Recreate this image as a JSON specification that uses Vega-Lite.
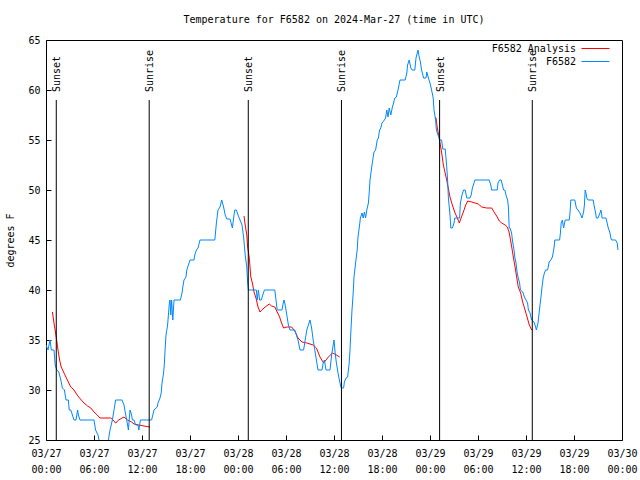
{
  "$schema": "https://vega.github.io/schema/vega-lite/v6.json",
  "width": 576,
  "height": 400,
  "autosize": {"type": "none"},
  "padding": {"left": 46, "top": 40, "right": 18, "bottom": 40},
  "background": "white",
  "title": {"text": "Temperature for F6582 on 2024-Mar-27 (time in UTC)", "font": "DejaVu Sans Mono", "fontSize": 10, "fontWeight": "normal", "anchor": "middle", "offset": 10, "color": "black"},
  "config": {
    "view": {"stroke": "black", "strokeWidth": 1},
    "font": "DejaVu Sans Mono",
    "axis": {"labelFont": "DejaVu Sans Mono", "labelFontSize": 10, "labelColor": "black", "titleFont": "DejaVu Sans Mono", "titleFontSize": 10, "titleFontWeight": "normal", "titleColor": "black", "grid": false, "domain": false, "tickColor": "black", "tickWidth": 1, "labelOverlap": false}
  },
  "datasets": {
    "temps": [
      {"series": "F6582 Analysis", "seg": "a1", "time": "2024-03-27T00:48:00Z", "temp": 37.8},
      {"series": "F6582 Analysis", "seg": "a1", "time": "2024-03-27T01:00:00Z", "temp": 36.7},
      {"series": "F6582 Analysis", "seg": "a1", "time": "2024-03-27T01:12:00Z", "temp": 35.7},
      {"series": "F6582 Analysis", "seg": "a1", "time": "2024-03-27T01:20:00Z", "temp": 35},
      {"series": "F6582 Analysis", "seg": "a1", "time": "2024-03-27T01:30:00Z", "temp": 34},
      {"series": "F6582 Analysis", "seg": "a1", "time": "2024-03-27T01:42:00Z", "temp": 33},
      {"series": "F6582 Analysis", "seg": "a1", "time": "2024-03-27T01:54:00Z", "temp": 32.3},
      {"series": "F6582 Analysis", "seg": "a1", "time": "2024-03-27T02:15:00Z", "temp": 31.7},
      {"series": "F6582 Analysis", "seg": "a1", "time": "2024-03-27T02:40:00Z", "temp": 31},
      {"series": "F6582 Analysis", "seg": "a1", "time": "2024-03-27T03:06:00Z", "temp": 30.3},
      {"series": "F6582 Analysis", "seg": "a1", "time": "2024-03-27T03:30:00Z", "temp": 30},
      {"series": "F6582 Analysis", "seg": "a1", "time": "2024-03-27T03:54:00Z", "temp": 29.5},
      {"series": "F6582 Analysis", "seg": "a1", "time": "2024-03-27T04:18:00Z", "temp": 29.1},
      {"series": "F6582 Analysis", "seg": "a1", "time": "2024-03-27T04:45:00Z", "temp": 28.7},
      {"series": "F6582 Analysis", "seg": "a1", "time": "2024-03-27T05:12:00Z", "temp": 28.4},
      {"series": "F6582 Analysis", "seg": "a1", "time": "2024-03-27T05:36:00Z", "temp": 28.2},
      {"series": "F6582 Analysis", "seg": "a1", "time": "2024-03-27T06:00:00Z", "temp": 27.8},
      {"series": "F6582 Analysis", "seg": "a1", "time": "2024-03-27T06:24:00Z", "temp": 27.5},
      {"series": "F6582 Analysis", "seg": "a1", "time": "2024-03-27T06:45:00Z", "temp": 27.2},
      {"series": "F6582 Analysis", "seg": "a1", "time": "2024-03-27T07:15:00Z", "temp": 27.2},
      {"series": "F6582 Analysis", "seg": "a1", "time": "2024-03-27T08:06:00Z", "temp": 27.2},
      {"series": "F6582 Analysis", "seg": "a1", "time": "2024-03-27T08:30:00Z", "temp": 26.9},
      {"series": "F6582 Analysis", "seg": "a1", "time": "2024-03-27T08:42:00Z", "temp": 26.7},
      {"series": "F6582 Analysis", "seg": "a1", "time": "2024-03-27T09:06:00Z", "temp": 27},
      {"series": "F6582 Analysis", "seg": "a1", "time": "2024-03-27T09:30:00Z", "temp": 27.2},
      {"series": "F6582 Analysis", "seg": "a1", "time": "2024-03-27T09:45:00Z", "temp": 27.3},
      {"series": "F6582 Analysis", "seg": "a1", "time": "2024-03-27T10:12:00Z", "temp": 27},
      {"series": "F6582 Analysis", "seg": "a1", "time": "2024-03-27T10:42:00Z", "temp": 26.8},
      {"series": "F6582 Analysis", "seg": "a1", "time": "2024-03-27T11:00:00Z", "temp": 26.6},
      {"series": "F6582 Analysis", "seg": "a1", "time": "2024-03-27T11:36:00Z", "temp": 26.5},
      {"series": "F6582 Analysis", "seg": "a1", "time": "2024-03-27T12:15:00Z", "temp": 26.4},
      {"series": "F6582 Analysis", "seg": "a1", "time": "2024-03-27T13:00:00Z", "temp": 26.3},
      {"series": "F6582 Analysis", "seg": "a2", "time": "2024-03-28T00:45:00Z", "temp": 47.4},
      {"series": "F6582 Analysis", "seg": "a2", "time": "2024-03-28T00:54:00Z", "temp": 46.5},
      {"series": "F6582 Analysis", "seg": "a2", "time": "2024-03-28T01:06:00Z", "temp": 45.5},
      {"series": "F6582 Analysis", "seg": "a2", "time": "2024-03-28T01:12:00Z", "temp": 44.3},
      {"series": "F6582 Analysis", "seg": "a2", "time": "2024-03-28T01:24:00Z", "temp": 43.3},
      {"series": "F6582 Analysis", "seg": "a2", "time": "2024-03-28T01:30:00Z", "temp": 42.3},
      {"series": "F6582 Analysis", "seg": "a2", "time": "2024-03-28T01:36:00Z", "temp": 41.3},
      {"series": "F6582 Analysis", "seg": "a2", "time": "2024-03-28T01:48:00Z", "temp": 40.7},
      {"series": "F6582 Analysis", "seg": "a2", "time": "2024-03-28T02:00:00Z", "temp": 39.8},
      {"series": "F6582 Analysis", "seg": "a2", "time": "2024-03-28T02:15:00Z", "temp": 39.2},
      {"series": "F6582 Analysis", "seg": "a2", "time": "2024-03-28T02:30:00Z", "temp": 38.3},
      {"series": "F6582 Analysis", "seg": "a2", "time": "2024-03-28T02:45:00Z", "temp": 37.8},
      {"series": "F6582 Analysis", "seg": "a2", "time": "2024-03-28T02:58:00Z", "temp": 38},
      {"series": "F6582 Analysis", "seg": "a2", "time": "2024-03-28T03:24:00Z", "temp": 38.3},
      {"series": "F6582 Analysis", "seg": "a2", "time": "2024-03-28T03:54:00Z", "temp": 38.6},
      {"series": "F6582 Analysis", "seg": "a2", "time": "2024-03-28T04:12:00Z", "temp": 38.4},
      {"series": "F6582 Analysis", "seg": "a2", "time": "2024-03-28T04:36:00Z", "temp": 38.3},
      {"series": "F6582 Analysis", "seg": "a2", "time": "2024-03-28T04:54:00Z", "temp": 37.8},
      {"series": "F6582 Analysis", "seg": "a2", "time": "2024-03-28T05:12:00Z", "temp": 37.3},
      {"series": "F6582 Analysis", "seg": "a2", "time": "2024-03-28T05:24:00Z", "temp": 36.8},
      {"series": "F6582 Analysis", "seg": "a2", "time": "2024-03-28T05:42:00Z", "temp": 36.2},
      {"series": "F6582 Analysis", "seg": "a2", "time": "2024-03-28T06:06:00Z", "temp": 36.3},
      {"series": "F6582 Analysis", "seg": "a2", "time": "2024-03-28T06:42:00Z", "temp": 36.3},
      {"series": "F6582 Analysis", "seg": "a2", "time": "2024-03-28T07:06:00Z", "temp": 35.9},
      {"series": "F6582 Analysis", "seg": "a2", "time": "2024-03-28T07:30:00Z", "temp": 35.2},
      {"series": "F6582 Analysis", "seg": "a2", "time": "2024-03-28T08:00:00Z", "temp": 34.8},
      {"series": "F6582 Analysis", "seg": "a2", "time": "2024-03-28T08:36:00Z", "temp": 34.7},
      {"series": "F6582 Analysis", "seg": "a2", "time": "2024-03-28T09:24:00Z", "temp": 34.5},
      {"series": "F6582 Analysis", "seg": "a2", "time": "2024-03-28T09:48:00Z", "temp": 34.2},
      {"series": "F6582 Analysis", "seg": "a2", "time": "2024-03-28T10:15:00Z", "temp": 33.3},
      {"series": "F6582 Analysis", "seg": "a2", "time": "2024-03-28T10:42:00Z", "temp": 32.7},
      {"series": "F6582 Analysis", "seg": "a2", "time": "2024-03-28T11:18:00Z", "temp": 33.3},
      {"series": "F6582 Analysis", "seg": "a2", "time": "2024-03-28T11:48:00Z", "temp": 33.7},
      {"series": "F6582 Analysis", "seg": "a2", "time": "2024-03-28T12:06:00Z", "temp": 33.6},
      {"series": "F6582 Analysis", "seg": "a2", "time": "2024-03-28T12:42:00Z", "temp": 33.3},
      {"series": "F6582 Analysis", "seg": "a3", "time": "2024-03-29T00:39:00Z", "temp": 57.3},
      {"series": "F6582 Analysis", "seg": "a3", "time": "2024-03-29T00:45:00Z", "temp": 57.2},
      {"series": "F6582 Analysis", "seg": "a3", "time": "2024-03-29T00:54:00Z", "temp": 56.3},
      {"series": "F6582 Analysis", "seg": "a3", "time": "2024-03-29T01:02:00Z", "temp": 55.7},
      {"series": "F6582 Analysis", "seg": "a3", "time": "2024-03-29T01:15:00Z", "temp": 54.7},
      {"series": "F6582 Analysis", "seg": "a3", "time": "2024-03-29T01:28:00Z", "temp": 53.7},
      {"series": "F6582 Analysis", "seg": "a3", "time": "2024-03-29T01:40:00Z", "temp": 52.5},
      {"series": "F6582 Analysis", "seg": "a3", "time": "2024-03-29T01:52:00Z", "temp": 51.8},
      {"series": "F6582 Analysis", "seg": "a3", "time": "2024-03-29T02:05:00Z", "temp": 51},
      {"series": "F6582 Analysis", "seg": "a3", "time": "2024-03-29T02:17:00Z", "temp": 50.2},
      {"series": "F6582 Analysis", "seg": "a3", "time": "2024-03-29T02:30:00Z", "temp": 49.3},
      {"series": "F6582 Analysis", "seg": "a3", "time": "2024-03-29T02:43:00Z", "temp": 48.7},
      {"series": "F6582 Analysis", "seg": "a3", "time": "2024-03-29T02:55:00Z", "temp": 48.2},
      {"series": "F6582 Analysis", "seg": "a3", "time": "2024-03-29T03:08:00Z", "temp": 47.7},
      {"series": "F6582 Analysis", "seg": "a3", "time": "2024-03-29T03:25:00Z", "temp": 47.2},
      {"series": "F6582 Analysis", "seg": "a3", "time": "2024-03-29T03:40:00Z", "temp": 46.7},
      {"series": "F6582 Analysis", "seg": "a3", "time": "2024-03-29T03:53:00Z", "temp": 47.2},
      {"series": "F6582 Analysis", "seg": "a3", "time": "2024-03-29T04:10:00Z", "temp": 47.8},
      {"series": "F6582 Analysis", "seg": "a3", "time": "2024-03-29T04:28:00Z", "temp": 48.5},
      {"series": "F6582 Analysis", "seg": "a3", "time": "2024-03-29T04:43:00Z", "temp": 48.9},
      {"series": "F6582 Analysis", "seg": "a3", "time": "2024-03-29T05:13:00Z", "temp": 48.8},
      {"series": "F6582 Analysis", "seg": "a3", "time": "2024-03-29T05:38:00Z", "temp": 48.7},
      {"series": "F6582 Analysis", "seg": "a3", "time": "2024-03-29T06:02:00Z", "temp": 48.6},
      {"series": "F6582 Analysis", "seg": "a3", "time": "2024-03-29T06:28:00Z", "temp": 48.3},
      {"series": "F6582 Analysis", "seg": "a3", "time": "2024-03-29T07:05:00Z", "temp": 48.2},
      {"series": "F6582 Analysis", "seg": "a3", "time": "2024-03-29T07:43:00Z", "temp": 48.2},
      {"series": "F6582 Analysis", "seg": "a3", "time": "2024-03-29T08:00:00Z", "temp": 47.8},
      {"series": "F6582 Analysis", "seg": "a3", "time": "2024-03-29T08:20:00Z", "temp": 47.4},
      {"series": "F6582 Analysis", "seg": "a3", "time": "2024-03-29T08:40:00Z", "temp": 46.9},
      {"series": "F6582 Analysis", "seg": "a3", "time": "2024-03-29T08:58:00Z", "temp": 46.7},
      {"series": "F6582 Analysis", "seg": "a3", "time": "2024-03-29T09:23:00Z", "temp": 46.5},
      {"series": "F6582 Analysis", "seg": "a3", "time": "2024-03-29T09:40:00Z", "temp": 46.3},
      {"series": "F6582 Analysis", "seg": "a3", "time": "2024-03-29T09:53:00Z", "temp": 45.8},
      {"series": "F6582 Analysis", "seg": "a3", "time": "2024-03-29T10:00:00Z", "temp": 45.3},
      {"series": "F6582 Analysis", "seg": "a3", "time": "2024-03-29T10:13:00Z", "temp": 44.3},
      {"series": "F6582 Analysis", "seg": "a3", "time": "2024-03-29T10:25:00Z", "temp": 43.3},
      {"series": "F6582 Analysis", "seg": "a3", "time": "2024-03-29T10:38:00Z", "temp": 42.3},
      {"series": "F6582 Analysis", "seg": "a3", "time": "2024-03-29T10:50:00Z", "temp": 41.3},
      {"series": "F6582 Analysis", "seg": "a3", "time": "2024-03-29T11:02:00Z", "temp": 40.3},
      {"series": "F6582 Analysis", "seg": "a3", "time": "2024-03-29T11:20:00Z", "temp": 39.7},
      {"series": "F6582 Analysis", "seg": "a3", "time": "2024-03-29T11:35:00Z", "temp": 38.8},
      {"series": "F6582 Analysis", "seg": "a3", "time": "2024-03-29T11:53:00Z", "temp": 38},
      {"series": "F6582 Analysis", "seg": "a3", "time": "2024-03-29T12:10:00Z", "temp": 37.2},
      {"series": "F6582 Analysis", "seg": "a3", "time": "2024-03-29T12:25:00Z", "temp": 36.5},
      {"series": "F6582 Analysis", "seg": "a3", "time": "2024-03-29T12:43:00Z", "temp": 36},
      {"series": "F6582", "seg": "obs", "time": "2024-03-27T00:00:00Z", "temp": 34.5},
      {"series": "F6582", "seg": "obs", "time": "2024-03-27T00:15:00Z", "temp": 34},
      {"series": "F6582", "seg": "obs", "time": "2024-03-27T00:30:00Z", "temp": 35},
      {"series": "F6582", "seg": "obs", "time": "2024-03-27T00:40:00Z", "temp": 34},
      {"series": "F6582", "seg": "obs", "time": "2024-03-27T01:00:00Z", "temp": 34},
      {"series": "F6582", "seg": "obs", "time": "2024-03-27T01:09:00Z", "temp": 32.5},
      {"series": "F6582", "seg": "obs", "time": "2024-03-27T01:21:00Z", "temp": 32},
      {"series": "F6582", "seg": "obs", "time": "2024-03-27T01:36:00Z", "temp": 31.8},
      {"series": "F6582", "seg": "obs", "time": "2024-03-27T01:51:00Z", "temp": 31},
      {"series": "F6582", "seg": "obs", "time": "2024-03-27T02:03:00Z", "temp": 30.2},
      {"series": "F6582", "seg": "obs", "time": "2024-03-27T02:18:00Z", "temp": 30},
      {"series": "F6582", "seg": "obs", "time": "2024-03-27T02:30:00Z", "temp": 29},
      {"series": "F6582", "seg": "obs", "time": "2024-03-27T02:48:00Z", "temp": 29},
      {"series": "F6582", "seg": "obs", "time": "2024-03-27T02:54:00Z", "temp": 28},
      {"series": "F6582", "seg": "obs", "time": "2024-03-27T03:06:00Z", "temp": 28},
      {"series": "F6582", "seg": "obs", "time": "2024-03-27T03:18:00Z", "temp": 27.5},
      {"series": "F6582", "seg": "obs", "time": "2024-03-27T03:30:00Z", "temp": 27},
      {"series": "F6582", "seg": "obs", "time": "2024-03-27T03:45:00Z", "temp": 27},
      {"series": "F6582", "seg": "obs", "time": "2024-03-27T03:57:00Z", "temp": 28},
      {"series": "F6582", "seg": "obs", "time": "2024-03-27T04:03:00Z", "temp": 27.5},
      {"series": "F6582", "seg": "obs", "time": "2024-03-27T04:15:00Z", "temp": 27},
      {"series": "F6582", "seg": "obs", "time": "2024-03-27T06:00:00Z", "temp": 27},
      {"series": "F6582", "seg": "obs", "time": "2024-03-27T06:12:00Z", "temp": 26},
      {"series": "F6582", "seg": "obs", "time": "2024-03-27T06:30:00Z", "temp": 25.5},
      {"series": "F6582", "seg": "obs", "time": "2024-03-27T06:45:00Z", "temp": 24.5},
      {"series": "F6582", "seg": "obs", "time": "2024-03-27T07:00:00Z", "temp": 24},
      {"series": "F6582", "seg": "obs", "time": "2024-03-27T07:36:00Z", "temp": 24},
      {"series": "F6582", "seg": "obs", "time": "2024-03-27T07:48:00Z", "temp": 25},
      {"series": "F6582", "seg": "obs", "time": "2024-03-27T08:00:00Z", "temp": 26},
      {"series": "F6582", "seg": "obs", "time": "2024-03-27T08:18:00Z", "temp": 27},
      {"series": "F6582", "seg": "obs", "time": "2024-03-27T08:30:00Z", "temp": 28},
      {"series": "F6582", "seg": "obs", "time": "2024-03-27T08:42:00Z", "temp": 29},
      {"series": "F6582", "seg": "obs", "time": "2024-03-27T09:30:00Z", "temp": 29},
      {"series": "F6582", "seg": "obs", "time": "2024-03-27T09:45:00Z", "temp": 28.5},
      {"series": "F6582", "seg": "obs", "time": "2024-03-27T09:58:00Z", "temp": 27.5},
      {"series": "F6582", "seg": "obs", "time": "2024-03-27T10:12:00Z", "temp": 26.5},
      {"series": "F6582", "seg": "obs", "time": "2024-03-27T10:18:00Z", "temp": 26},
      {"series": "F6582", "seg": "obs", "time": "2024-03-27T10:30:00Z", "temp": 28},
      {"series": "F6582", "seg": "obs", "time": "2024-03-27T10:42:00Z", "temp": 27.5},
      {"series": "F6582", "seg": "obs", "time": "2024-03-27T10:48:00Z", "temp": 27},
      {"series": "F6582", "seg": "obs", "time": "2024-03-27T11:00:00Z", "temp": 27},
      {"series": "F6582", "seg": "obs", "time": "2024-03-27T11:12:00Z", "temp": 26.5},
      {"series": "F6582", "seg": "obs", "time": "2024-03-27T11:30:00Z", "temp": 26.5},
      {"series": "F6582", "seg": "obs", "time": "2024-03-27T11:36:00Z", "temp": 26},
      {"series": "F6582", "seg": "obs", "time": "2024-03-27T11:42:00Z", "temp": 26.5},
      {"series": "F6582", "seg": "obs", "time": "2024-03-27T11:48:00Z", "temp": 27},
      {"series": "F6582", "seg": "obs", "time": "2024-03-27T13:12:00Z", "temp": 27},
      {"series": "F6582", "seg": "obs", "time": "2024-03-27T13:30:00Z", "temp": 28},
      {"series": "F6582", "seg": "obs", "time": "2024-03-27T13:54:00Z", "temp": 28.3},
      {"series": "F6582", "seg": "obs", "time": "2024-03-27T14:00:00Z", "temp": 28.7},
      {"series": "F6582", "seg": "obs", "time": "2024-03-27T14:15:00Z", "temp": 29.2},
      {"series": "F6582", "seg": "obs", "time": "2024-03-27T14:24:00Z", "temp": 29.7},
      {"series": "F6582", "seg": "obs", "time": "2024-03-27T14:30:00Z", "temp": 30.7},
      {"series": "F6582", "seg": "obs", "time": "2024-03-27T14:42:00Z", "temp": 31.7},
      {"series": "F6582", "seg": "obs", "time": "2024-03-27T14:48:00Z", "temp": 32.7},
      {"series": "F6582", "seg": "obs", "time": "2024-03-27T14:54:00Z", "temp": 34.2},
      {"series": "F6582", "seg": "obs", "time": "2024-03-27T15:00:00Z", "temp": 35.5},
      {"series": "F6582", "seg": "obs", "time": "2024-03-27T15:12:00Z", "temp": 36.5},
      {"series": "F6582", "seg": "obs", "time": "2024-03-27T15:18:00Z", "temp": 37.5},
      {"series": "F6582", "seg": "obs", "time": "2024-03-27T15:24:00Z", "temp": 38.5},
      {"series": "F6582", "seg": "obs", "time": "2024-03-27T15:30:00Z", "temp": 39},
      {"series": "F6582", "seg": "obs", "time": "2024-03-27T15:36:00Z", "temp": 37.5},
      {"series": "F6582", "seg": "obs", "time": "2024-03-27T15:42:00Z", "temp": 39},
      {"series": "F6582", "seg": "obs", "time": "2024-03-27T15:51:00Z", "temp": 37},
      {"series": "F6582", "seg": "obs", "time": "2024-03-27T16:00:00Z", "temp": 39},
      {"series": "F6582", "seg": "obs", "time": "2024-03-27T16:48:00Z", "temp": 39},
      {"series": "F6582", "seg": "obs", "time": "2024-03-27T17:00:00Z", "temp": 39.7},
      {"series": "F6582", "seg": "obs", "time": "2024-03-27T17:06:00Z", "temp": 40.3},
      {"series": "F6582", "seg": "obs", "time": "2024-03-27T17:15:00Z", "temp": 41},
      {"series": "F6582", "seg": "obs", "time": "2024-03-27T17:30:00Z", "temp": 41.3},
      {"series": "F6582", "seg": "obs", "time": "2024-03-27T17:36:00Z", "temp": 42},
      {"series": "F6582", "seg": "obs", "time": "2024-03-27T17:48:00Z", "temp": 42.5},
      {"series": "F6582", "seg": "obs", "time": "2024-03-27T18:00:00Z", "temp": 43},
      {"series": "F6582", "seg": "obs", "time": "2024-03-27T18:30:00Z", "temp": 43},
      {"series": "F6582", "seg": "obs", "time": "2024-03-27T18:36:00Z", "temp": 43.5},
      {"series": "F6582", "seg": "obs", "time": "2024-03-27T18:48:00Z", "temp": 44},
      {"series": "F6582", "seg": "obs", "time": "2024-03-27T19:00:00Z", "temp": 44.2},
      {"series": "F6582", "seg": "obs", "time": "2024-03-27T19:15:00Z", "temp": 45},
      {"series": "F6582", "seg": "obs", "time": "2024-03-27T21:06:00Z", "temp": 45},
      {"series": "F6582", "seg": "obs", "time": "2024-03-27T21:18:00Z", "temp": 46.7},
      {"series": "F6582", "seg": "obs", "time": "2024-03-27T21:30:00Z", "temp": 48},
      {"series": "F6582", "seg": "obs", "time": "2024-03-27T21:45:00Z", "temp": 48.3},
      {"series": "F6582", "seg": "obs", "time": "2024-03-27T21:58:00Z", "temp": 49},
      {"series": "F6582", "seg": "obs", "time": "2024-03-27T22:12:00Z", "temp": 48.3},
      {"series": "F6582", "seg": "obs", "time": "2024-03-27T22:24:00Z", "temp": 47.5},
      {"series": "F6582", "seg": "obs", "time": "2024-03-27T22:36:00Z", "temp": 47.1},
      {"series": "F6582", "seg": "obs", "time": "2024-03-27T23:00:00Z", "temp": 47.1},
      {"series": "F6582", "seg": "obs", "time": "2024-03-27T23:12:00Z", "temp": 46.5},
      {"series": "F6582", "seg": "obs", "time": "2024-03-27T23:18:00Z", "temp": 46.2},
      {"series": "F6582", "seg": "obs", "time": "2024-03-27T23:30:00Z", "temp": 47.5},
      {"series": "F6582", "seg": "obs", "time": "2024-03-27T23:36:00Z", "temp": 48},
      {"series": "F6582", "seg": "obs", "time": "2024-03-27T23:48:00Z", "temp": 48},
      {"series": "F6582", "seg": "obs", "time": "2024-03-28T00:00:00Z", "temp": 47.5},
      {"series": "F6582", "seg": "obs", "time": "2024-03-28T00:15:00Z", "temp": 47},
      {"series": "F6582", "seg": "obs", "time": "2024-03-28T00:30:00Z", "temp": 46.5},
      {"series": "F6582", "seg": "obs", "time": "2024-03-28T00:42:00Z", "temp": 45.3},
      {"series": "F6582", "seg": "obs", "time": "2024-03-28T00:54:00Z", "temp": 43.5},
      {"series": "F6582", "seg": "obs", "time": "2024-03-28T01:06:00Z", "temp": 42.3},
      {"series": "F6582", "seg": "obs", "time": "2024-03-28T01:12:00Z", "temp": 40.8},
      {"series": "F6582", "seg": "obs", "time": "2024-03-28T01:18:00Z", "temp": 40},
      {"series": "F6582", "seg": "obs", "time": "2024-03-28T02:18:00Z", "temp": 40},
      {"series": "F6582", "seg": "obs", "time": "2024-03-28T02:24:00Z", "temp": 39},
      {"series": "F6582", "seg": "obs", "time": "2024-03-28T02:33:00Z", "temp": 40},
      {"series": "F6582", "seg": "obs", "time": "2024-03-28T02:42:00Z", "temp": 39},
      {"series": "F6582", "seg": "obs", "time": "2024-03-28T02:54:00Z", "temp": 39},
      {"series": "F6582", "seg": "obs", "time": "2024-03-28T03:06:00Z", "temp": 39.5},
      {"series": "F6582", "seg": "obs", "time": "2024-03-28T03:18:00Z", "temp": 40},
      {"series": "F6582", "seg": "obs", "time": "2024-03-28T04:36:00Z", "temp": 40},
      {"series": "F6582", "seg": "obs", "time": "2024-03-28T04:45:00Z", "temp": 39},
      {"series": "F6582", "seg": "obs", "time": "2024-03-28T04:54:00Z", "temp": 38},
      {"series": "F6582", "seg": "obs", "time": "2024-03-28T05:30:00Z", "temp": 38},
      {"series": "F6582", "seg": "obs", "time": "2024-03-28T05:36:00Z", "temp": 38.5},
      {"series": "F6582", "seg": "obs", "time": "2024-03-28T05:45:00Z", "temp": 39},
      {"series": "F6582", "seg": "obs", "time": "2024-03-28T05:54:00Z", "temp": 38.5},
      {"series": "F6582", "seg": "obs", "time": "2024-03-28T06:06:00Z", "temp": 37.5},
      {"series": "F6582", "seg": "obs", "time": "2024-03-28T06:18:00Z", "temp": 36.5},
      {"series": "F6582", "seg": "obs", "time": "2024-03-28T06:30:00Z", "temp": 36},
      {"series": "F6582", "seg": "obs", "time": "2024-03-28T07:06:00Z", "temp": 36},
      {"series": "F6582", "seg": "obs", "time": "2024-03-28T07:18:00Z", "temp": 35.5},
      {"series": "F6582", "seg": "obs", "time": "2024-03-28T07:30:00Z", "temp": 35},
      {"series": "F6582", "seg": "obs", "time": "2024-03-28T07:45:00Z", "temp": 34},
      {"series": "F6582", "seg": "obs", "time": "2024-03-28T08:12:00Z", "temp": 34},
      {"series": "F6582", "seg": "obs", "time": "2024-03-28T08:24:00Z", "temp": 35},
      {"series": "F6582", "seg": "obs", "time": "2024-03-28T08:36:00Z", "temp": 36},
      {"series": "F6582", "seg": "obs", "time": "2024-03-28T08:48:00Z", "temp": 36.5},
      {"series": "F6582", "seg": "obs", "time": "2024-03-28T09:00:00Z", "temp": 37},
      {"series": "F6582", "seg": "obs", "time": "2024-03-28T09:12:00Z", "temp": 36.2},
      {"series": "F6582", "seg": "obs", "time": "2024-03-28T09:24:00Z", "temp": 35},
      {"series": "F6582", "seg": "obs", "time": "2024-03-28T09:36:00Z", "temp": 34},
      {"series": "F6582", "seg": "obs", "time": "2024-03-28T09:48:00Z", "temp": 33},
      {"series": "F6582", "seg": "obs", "time": "2024-03-28T10:00:00Z", "temp": 32},
      {"series": "F6582", "seg": "obs", "time": "2024-03-28T10:30:00Z", "temp": 32},
      {"series": "F6582", "seg": "obs", "time": "2024-03-28T10:39:00Z", "temp": 32.7},
      {"series": "F6582", "seg": "obs", "time": "2024-03-28T10:48:00Z", "temp": 33},
      {"series": "F6582", "seg": "obs", "time": "2024-03-28T11:00:00Z", "temp": 32},
      {"series": "F6582", "seg": "obs", "time": "2024-03-28T11:30:00Z", "temp": 32},
      {"series": "F6582", "seg": "obs", "time": "2024-03-28T11:42:00Z", "temp": 33.5},
      {"series": "F6582", "seg": "obs", "time": "2024-03-28T11:54:00Z", "temp": 34.5},
      {"series": "F6582", "seg": "obs", "time": "2024-03-28T12:00:00Z", "temp": 35},
      {"series": "F6582", "seg": "obs", "time": "2024-03-28T12:09:00Z", "temp": 33.7},
      {"series": "F6582", "seg": "obs", "time": "2024-03-28T12:18:00Z", "temp": 32.7},
      {"series": "F6582", "seg": "obs", "time": "2024-03-28T12:30:00Z", "temp": 31.7},
      {"series": "F6582", "seg": "obs", "time": "2024-03-28T12:45:00Z", "temp": 30.7},
      {"series": "F6582", "seg": "obs", "time": "2024-03-28T12:54:00Z", "temp": 30.2},
      {"series": "F6582", "seg": "obs", "time": "2024-03-28T13:12:00Z", "temp": 30.2},
      {"series": "F6582", "seg": "obs", "time": "2024-03-28T13:18:00Z", "temp": 30.8},
      {"series": "F6582", "seg": "obs", "time": "2024-03-28T13:30:00Z", "temp": 31.2},
      {"series": "F6582", "seg": "obs", "time": "2024-03-28T13:42:00Z", "temp": 31.3},
      {"series": "F6582", "seg": "obs", "time": "2024-03-28T13:54:00Z", "temp": 32.7},
      {"series": "F6582", "seg": "obs", "time": "2024-03-28T14:00:00Z", "temp": 34},
      {"series": "F6582", "seg": "obs", "time": "2024-03-28T14:06:00Z", "temp": 35.7},
      {"series": "F6582", "seg": "obs", "time": "2024-03-28T14:15:00Z", "temp": 38},
      {"series": "F6582", "seg": "obs", "time": "2024-03-28T14:24:00Z", "temp": 39.7},
      {"series": "F6582", "seg": "obs", "time": "2024-03-28T14:30:00Z", "temp": 41.3},
      {"series": "F6582", "seg": "obs", "time": "2024-03-28T14:42:00Z", "temp": 42.7},
      {"series": "F6582", "seg": "obs", "time": "2024-03-28T14:54:00Z", "temp": 44},
      {"series": "F6582", "seg": "obs", "time": "2024-03-28T15:00:00Z", "temp": 45.3},
      {"series": "F6582", "seg": "obs", "time": "2024-03-28T15:12:00Z", "temp": 46.5},
      {"series": "F6582", "seg": "obs", "time": "2024-03-28T15:18:00Z", "temp": 47.2},
      {"series": "F6582", "seg": "obs", "time": "2024-03-28T15:30:00Z", "temp": 47.7},
      {"series": "F6582", "seg": "obs", "time": "2024-03-28T15:39:00Z", "temp": 47.2},
      {"series": "F6582", "seg": "obs", "time": "2024-03-28T15:48:00Z", "temp": 47.8},
      {"series": "F6582", "seg": "obs", "time": "2024-03-28T15:57:00Z", "temp": 47.2},
      {"series": "F6582", "seg": "obs", "time": "2024-03-28T16:06:00Z", "temp": 48},
      {"series": "F6582", "seg": "obs", "time": "2024-03-28T16:18:00Z", "temp": 48.7},
      {"series": "F6582", "seg": "obs", "time": "2024-03-28T16:24:00Z", "temp": 49.7},
      {"series": "F6582", "seg": "obs", "time": "2024-03-28T16:30:00Z", "temp": 51},
      {"series": "F6582", "seg": "obs", "time": "2024-03-28T16:42:00Z", "temp": 52.2},
      {"series": "F6582", "seg": "obs", "time": "2024-03-28T16:54:00Z", "temp": 53.3},
      {"series": "F6582", "seg": "obs", "time": "2024-03-28T17:00:00Z", "temp": 53.8},
      {"series": "F6582", "seg": "obs", "time": "2024-03-28T17:12:00Z", "temp": 54},
      {"series": "F6582", "seg": "obs", "time": "2024-03-28T17:24:00Z", "temp": 55},
      {"series": "F6582", "seg": "obs", "time": "2024-03-28T17:33:00Z", "temp": 55.2},
      {"series": "F6582", "seg": "obs", "time": "2024-03-28T17:42:00Z", "temp": 56},
      {"series": "F6582", "seg": "obs", "time": "2024-03-28T17:51:00Z", "temp": 56.2},
      {"series": "F6582", "seg": "obs", "time": "2024-03-28T18:00:00Z", "temp": 56.7},
      {"series": "F6582", "seg": "obs", "time": "2024-03-28T18:18:00Z", "temp": 57},
      {"series": "F6582", "seg": "obs", "time": "2024-03-28T18:27:00Z", "temp": 57.2},
      {"series": "F6582", "seg": "obs", "time": "2024-03-28T18:36:00Z", "temp": 58},
      {"series": "F6582", "seg": "obs", "time": "2024-03-28T18:45:00Z", "temp": 57.3},
      {"series": "F6582", "seg": "obs", "time": "2024-03-28T18:54:00Z", "temp": 58.2},
      {"series": "F6582", "seg": "obs", "time": "2024-03-28T19:06:00Z", "temp": 57.5},
      {"series": "F6582", "seg": "obs", "time": "2024-03-28T19:18:00Z", "temp": 58.3},
      {"series": "F6582", "seg": "obs", "time": "2024-03-28T19:27:00Z", "temp": 58.7},
      {"series": "F6582", "seg": "obs", "time": "2024-03-28T19:36:00Z", "temp": 59.2},
      {"series": "F6582", "seg": "obs", "time": "2024-03-28T19:48:00Z", "temp": 59.3},
      {"series": "F6582", "seg": "obs", "time": "2024-03-28T20:00:00Z", "temp": 60},
      {"series": "F6582", "seg": "obs", "time": "2024-03-28T20:15:00Z", "temp": 61},
      {"series": "F6582", "seg": "obs", "time": "2024-03-28T20:54:00Z", "temp": 61},
      {"series": "F6582", "seg": "obs", "time": "2024-03-28T21:06:00Z", "temp": 61.7},
      {"series": "F6582", "seg": "obs", "time": "2024-03-28T21:12:00Z", "temp": 62.5},
      {"series": "F6582", "seg": "obs", "time": "2024-03-28T21:24:00Z", "temp": 63},
      {"series": "F6582", "seg": "obs", "time": "2024-03-28T21:36:00Z", "temp": 62.2},
      {"series": "F6582", "seg": "obs", "time": "2024-03-28T21:45:00Z", "temp": 62},
      {"series": "F6582", "seg": "obs", "time": "2024-03-28T22:06:00Z", "temp": 62},
      {"series": "F6582", "seg": "obs", "time": "2024-03-28T22:15:00Z", "temp": 63.2},
      {"series": "F6582", "seg": "obs", "time": "2024-03-28T22:30:00Z", "temp": 64},
      {"series": "F6582", "seg": "obs", "time": "2024-03-28T22:36:00Z", "temp": 63.5},
      {"series": "F6582", "seg": "obs", "time": "2024-03-28T22:48:00Z", "temp": 62.8},
      {"series": "F6582", "seg": "obs", "time": "2024-03-28T22:57:00Z", "temp": 62},
      {"series": "F6582", "seg": "obs", "time": "2024-03-28T23:12:00Z", "temp": 61.2},
      {"series": "F6582", "seg": "obs", "time": "2024-03-28T23:30:00Z", "temp": 61.2},
      {"series": "F6582", "seg": "obs", "time": "2024-03-28T23:36:00Z", "temp": 61.8},
      {"series": "F6582", "seg": "obs", "time": "2024-03-28T23:48:00Z", "temp": 61.2},
      {"series": "F6582", "seg": "obs", "time": "2024-03-29T00:00:00Z", "temp": 60.7},
      {"series": "F6582", "seg": "obs", "time": "2024-03-29T00:12:00Z", "temp": 60},
      {"series": "F6582", "seg": "obs", "time": "2024-03-29T00:24:00Z", "temp": 59.2},
      {"series": "F6582", "seg": "obs", "time": "2024-03-29T00:30:00Z", "temp": 58},
      {"series": "F6582", "seg": "obs", "time": "2024-03-29T00:42:00Z", "temp": 57},
      {"series": "F6582", "seg": "obs", "time": "2024-03-29T00:48:00Z", "temp": 56},
      {"series": "F6582", "seg": "obs", "time": "2024-03-29T01:00:00Z", "temp": 55.5},
      {"series": "F6582", "seg": "obs", "time": "2024-03-29T01:15:00Z", "temp": 55},
      {"series": "F6582", "seg": "obs", "time": "2024-03-29T01:27:00Z", "temp": 55},
      {"series": "F6582", "seg": "obs", "time": "2024-03-29T01:36:00Z", "temp": 54.1},
      {"series": "F6582", "seg": "obs", "time": "2024-03-29T01:54:00Z", "temp": 54.1},
      {"series": "F6582", "seg": "obs", "time": "2024-03-29T02:00:00Z", "temp": 53.2},
      {"series": "F6582", "seg": "obs", "time": "2024-03-29T02:06:00Z", "temp": 52.2},
      {"series": "F6582", "seg": "obs", "time": "2024-03-29T02:12:00Z", "temp": 51},
      {"series": "F6582", "seg": "obs", "time": "2024-03-29T02:18:00Z", "temp": 49.2},
      {"series": "F6582", "seg": "obs", "time": "2024-03-29T02:30:00Z", "temp": 47.5},
      {"series": "F6582", "seg": "obs", "time": "2024-03-29T02:36:00Z", "temp": 46.2},
      {"series": "F6582", "seg": "obs", "time": "2024-03-29T02:48:00Z", "temp": 46.2},
      {"series": "F6582", "seg": "obs", "time": "2024-03-29T03:00:00Z", "temp": 46.7},
      {"series": "F6582", "seg": "obs", "time": "2024-03-29T03:06:00Z", "temp": 47.2},
      {"series": "F6582", "seg": "obs", "time": "2024-03-29T03:42:00Z", "temp": 47.2},
      {"series": "F6582", "seg": "obs", "time": "2024-03-29T03:48:00Z", "temp": 48.7},
      {"series": "F6582", "seg": "obs", "time": "2024-03-29T04:00:00Z", "temp": 49.5},
      {"series": "F6582", "seg": "obs", "time": "2024-03-29T04:12:00Z", "temp": 50},
      {"series": "F6582", "seg": "obs", "time": "2024-03-29T04:24:00Z", "temp": 50},
      {"series": "F6582", "seg": "obs", "time": "2024-03-29T04:36:00Z", "temp": 49.2},
      {"series": "F6582", "seg": "obs", "time": "2024-03-29T05:00:00Z", "temp": 49.2},
      {"series": "F6582", "seg": "obs", "time": "2024-03-29T05:09:00Z", "temp": 49.5},
      {"series": "F6582", "seg": "obs", "time": "2024-03-29T05:18:00Z", "temp": 50.2},
      {"series": "F6582", "seg": "obs", "time": "2024-03-29T05:30:00Z", "temp": 50.7},
      {"series": "F6582", "seg": "obs", "time": "2024-03-29T05:36:00Z", "temp": 51},
      {"series": "F6582", "seg": "obs", "time": "2024-03-29T07:24:00Z", "temp": 51},
      {"series": "F6582", "seg": "obs", "time": "2024-03-29T07:36:00Z", "temp": 50.5},
      {"series": "F6582", "seg": "obs", "time": "2024-03-29T07:42:00Z", "temp": 50},
      {"series": "F6582", "seg": "obs", "time": "2024-03-29T08:24:00Z", "temp": 50},
      {"series": "F6582", "seg": "obs", "time": "2024-03-29T08:30:00Z", "temp": 50.7},
      {"series": "F6582", "seg": "obs", "time": "2024-03-29T08:42:00Z", "temp": 51},
      {"series": "F6582", "seg": "obs", "time": "2024-03-29T08:54:00Z", "temp": 51},
      {"series": "F6582", "seg": "obs", "time": "2024-03-29T09:03:00Z", "temp": 50.5},
      {"series": "F6582", "seg": "obs", "time": "2024-03-29T09:12:00Z", "temp": 50},
      {"series": "F6582", "seg": "obs", "time": "2024-03-29T09:21:00Z", "temp": 50},
      {"series": "F6582", "seg": "obs", "time": "2024-03-29T09:30:00Z", "temp": 49.5},
      {"series": "F6582", "seg": "obs", "time": "2024-03-29T09:42:00Z", "temp": 49},
      {"series": "F6582", "seg": "obs", "time": "2024-03-29T09:48:00Z", "temp": 48.3},
      {"series": "F6582", "seg": "obs", "time": "2024-03-29T09:54:00Z", "temp": 46.2},
      {"series": "F6582", "seg": "obs", "time": "2024-03-29T10:00:00Z", "temp": 46.2},
      {"series": "F6582", "seg": "obs", "time": "2024-03-29T10:12:00Z", "temp": 45.7},
      {"series": "F6582", "seg": "obs", "time": "2024-03-29T10:18:00Z", "temp": 45},
      {"series": "F6582", "seg": "obs", "time": "2024-03-29T10:30:00Z", "temp": 44},
      {"series": "F6582", "seg": "obs", "time": "2024-03-29T10:36:00Z", "temp": 43.3},
      {"series": "F6582", "seg": "obs", "time": "2024-03-29T10:45:00Z", "temp": 42.7},
      {"series": "F6582", "seg": "obs", "time": "2024-03-29T10:54:00Z", "temp": 41.7},
      {"series": "F6582", "seg": "obs", "time": "2024-03-29T11:00:00Z", "temp": 41.3},
      {"series": "F6582", "seg": "obs", "time": "2024-03-29T11:12:00Z", "temp": 40.7},
      {"series": "F6582", "seg": "obs", "time": "2024-03-29T11:18:00Z", "temp": 40},
      {"series": "F6582", "seg": "obs", "time": "2024-03-29T11:36:00Z", "temp": 39.8},
      {"series": "F6582", "seg": "obs", "time": "2024-03-29T11:48:00Z", "temp": 39.3},
      {"series": "F6582", "seg": "obs", "time": "2024-03-29T12:00:00Z", "temp": 39},
      {"series": "F6582", "seg": "obs", "time": "2024-03-29T12:12:00Z", "temp": 38.7},
      {"series": "F6582", "seg": "obs", "time": "2024-03-29T12:18:00Z", "temp": 38},
      {"series": "F6582", "seg": "obs", "time": "2024-03-29T12:30:00Z", "temp": 37.7},
      {"series": "F6582", "seg": "obs", "time": "2024-03-29T12:42:00Z", "temp": 37},
      {"series": "F6582", "seg": "obs", "time": "2024-03-29T13:00:00Z", "temp": 36.8},
      {"series": "F6582", "seg": "obs", "time": "2024-03-29T13:12:00Z", "temp": 36.3},
      {"series": "F6582", "seg": "obs", "time": "2024-03-29T13:18:00Z", "temp": 36},
      {"series": "F6582", "seg": "obs", "time": "2024-03-29T13:30:00Z", "temp": 36.7},
      {"series": "F6582", "seg": "obs", "time": "2024-03-29T13:45:00Z", "temp": 38.5},
      {"series": "F6582", "seg": "obs", "time": "2024-03-29T13:54:00Z", "temp": 39.5},
      {"series": "F6582", "seg": "obs", "time": "2024-03-29T14:00:00Z", "temp": 40.3},
      {"series": "F6582", "seg": "obs", "time": "2024-03-29T14:09:00Z", "temp": 41.2},
      {"series": "F6582", "seg": "obs", "time": "2024-03-29T14:18:00Z", "temp": 41.7},
      {"series": "F6582", "seg": "obs", "time": "2024-03-29T14:27:00Z", "temp": 42},
      {"series": "F6582", "seg": "obs", "time": "2024-03-29T14:42:00Z", "temp": 42},
      {"series": "F6582", "seg": "obs", "time": "2024-03-29T14:54:00Z", "temp": 42.8},
      {"series": "F6582", "seg": "obs", "time": "2024-03-29T15:06:00Z", "temp": 43},
      {"series": "F6582", "seg": "obs", "time": "2024-03-29T15:18:00Z", "temp": 43.3},
      {"series": "F6582", "seg": "obs", "time": "2024-03-29T15:30:00Z", "temp": 44.2},
      {"series": "F6582", "seg": "obs", "time": "2024-03-29T15:36:00Z", "temp": 45},
      {"series": "F6582", "seg": "obs", "time": "2024-03-29T16:12:00Z", "temp": 45},
      {"series": "F6582", "seg": "obs", "time": "2024-03-29T16:18:00Z", "temp": 45.7},
      {"series": "F6582", "seg": "obs", "time": "2024-03-29T16:24:00Z", "temp": 46.7},
      {"series": "F6582", "seg": "obs", "time": "2024-03-29T16:33:00Z", "temp": 47},
      {"series": "F6582", "seg": "obs", "time": "2024-03-29T16:42:00Z", "temp": 46.2},
      {"series": "F6582", "seg": "obs", "time": "2024-03-29T16:54:00Z", "temp": 47},
      {"series": "F6582", "seg": "obs", "time": "2024-03-29T17:24:00Z", "temp": 47},
      {"series": "F6582", "seg": "obs", "time": "2024-03-29T17:30:00Z", "temp": 47.7},
      {"series": "F6582", "seg": "obs", "time": "2024-03-29T17:36:00Z", "temp": 49},
      {"series": "F6582", "seg": "obs", "time": "2024-03-29T18:06:00Z", "temp": 49},
      {"series": "F6582", "seg": "obs", "time": "2024-03-29T18:18:00Z", "temp": 48.2},
      {"series": "F6582", "seg": "obs", "time": "2024-03-29T18:30:00Z", "temp": 48},
      {"series": "F6582", "seg": "obs", "time": "2024-03-29T18:45:00Z", "temp": 47.7},
      {"series": "F6582", "seg": "obs", "time": "2024-03-29T19:00:00Z", "temp": 47.2},
      {"series": "F6582", "seg": "obs", "time": "2024-03-29T19:12:00Z", "temp": 47.8},
      {"series": "F6582", "seg": "obs", "time": "2024-03-29T19:18:00Z", "temp": 48.5},
      {"series": "F6582", "seg": "obs", "time": "2024-03-29T19:24:00Z", "temp": 50},
      {"series": "F6582", "seg": "obs", "time": "2024-03-29T19:30:00Z", "temp": 49.7},
      {"series": "F6582", "seg": "obs", "time": "2024-03-29T19:36:00Z", "temp": 49.2},
      {"series": "F6582", "seg": "obs", "time": "2024-03-29T19:45:00Z", "temp": 49},
      {"series": "F6582", "seg": "obs", "time": "2024-03-29T20:24:00Z", "temp": 49},
      {"series": "F6582", "seg": "obs", "time": "2024-03-29T20:30:00Z", "temp": 48.5},
      {"series": "F6582", "seg": "obs", "time": "2024-03-29T20:42:00Z", "temp": 47.7},
      {"series": "F6582", "seg": "obs", "time": "2024-03-29T20:48:00Z", "temp": 47.2},
      {"series": "F6582", "seg": "obs", "time": "2024-03-29T21:00:00Z", "temp": 47.2},
      {"series": "F6582", "seg": "obs", "time": "2024-03-29T21:15:00Z", "temp": 47.7},
      {"series": "F6582", "seg": "obs", "time": "2024-03-29T21:21:00Z", "temp": 48},
      {"series": "F6582", "seg": "obs", "time": "2024-03-29T21:27:00Z", "temp": 47.7},
      {"series": "F6582", "seg": "obs", "time": "2024-03-29T21:30:00Z", "temp": 47.2},
      {"series": "F6582", "seg": "obs", "time": "2024-03-29T22:00:00Z", "temp": 47.2},
      {"series": "F6582", "seg": "obs", "time": "2024-03-29T22:15:00Z", "temp": 46.3},
      {"series": "F6582", "seg": "obs", "time": "2024-03-29T22:30:00Z", "temp": 45.7},
      {"series": "F6582", "seg": "obs", "time": "2024-03-29T22:36:00Z", "temp": 45.2},
      {"series": "F6582", "seg": "obs", "time": "2024-03-29T22:42:00Z", "temp": 45},
      {"series": "F6582", "seg": "obs", "time": "2024-03-29T23:12:00Z", "temp": 45},
      {"series": "F6582", "seg": "obs", "time": "2024-03-29T23:24:00Z", "temp": 44.7},
      {"series": "F6582", "seg": "obs", "time": "2024-03-29T23:30:00Z", "temp": 44}
    ],
    "sun": [
      {"event": "Sunset", "time": "2024-03-27T01:17:00Z"},
      {"event": "Sunrise", "time": "2024-03-27T12:54:00Z"},
      {"event": "Sunset", "time": "2024-03-28T01:17:00Z"},
      {"event": "Sunrise", "time": "2024-03-28T12:56:00Z"},
      {"event": "Sunset", "time": "2024-03-29T01:12:00Z"},
      {"event": "Sunrise", "time": "2024-03-29T12:47:00Z"}
    ]
  },
  "layer": [
    {
      "data": {"name": "temps"},
      "mark": {"type": "line", "strokeWidth": 1, "clip": true},
      "encoding": {
        "x": {
          "field": "time", "type": "temporal",
          "scale": {"type": "utc", "domain": [{"year": 2024, "month": 3, "date": 27, "utc": true}, {"year": 2024, "month": 3, "date": 30, "utc": true}], "nice": false},
          "axis": {
            "title": null,
            "offset": -5,
            "tickSize": 5,
            "tickCount": 12,
            "labelExpr": "[utcFormat(datum.value, '%m/%d'), utcFormat(datum.value, '%H:%M')]",
            "labelPadding": 8,
            "labelLineHeight": 16,
            "labelOverlap": false,
            "labelFlush": false
          }
        },
        "y": {
          "field": "temp", "type": "quantitative",
          "scale": {"domain": [25, 65], "nice": false, "zero": false},
          "axis": {"title": "degrees F", "values": [25, 30, 35, 40, 45, 50, 55, 60, 65], "offset": -5, "tickSize": 5, "labelPadding": 6, "titlePadding": 12}
        },
        "color": {
          "field": "series", "type": "nominal",
          "scale": {"domain": ["F6582 Analysis", "F6582"], "range": ["#ff0000", "#0088ff"]},
          "legend": {"orient": "none", "legendX": 542, "legendY": 1, "title": null, "symbolType": "M-2,0H2", "symbolSize": 196, "symbolStrokeWidth": 1, "labelAlign": "right", "labelOffset": -27, "labelFont": "DejaVu Sans Mono", "labelFontSize": 10, "labelColor": "black", "rowPadding": 0, "padding": 0}
        },
        "detail": {"field": "seg"}
      }
    },
    {
      "data": {"name": "sun"},
      "mark": {"type": "rule", "color": "black", "strokeWidth": 1},
      "encoding": {
        "x": {"field": "time", "type": "temporal"},
        "y": {"datum": 59, "type": "quantitative"},
        "y2": {"datum": 25}
      }
    },
    {
      "data": {"name": "sun"},
      "mark": {"type": "text", "angle": 270, "align": "left", "baseline": "middle", "font": "DejaVu Sans Mono", "fontSize": 10, "color": "black", "dy": 1},
      "encoding": {
        "x": {"field": "time", "type": "temporal"},
        "y": {"datum": 59.8, "type": "quantitative"},
        "text": {"field": "event"}
      }
    }
  ]
}
